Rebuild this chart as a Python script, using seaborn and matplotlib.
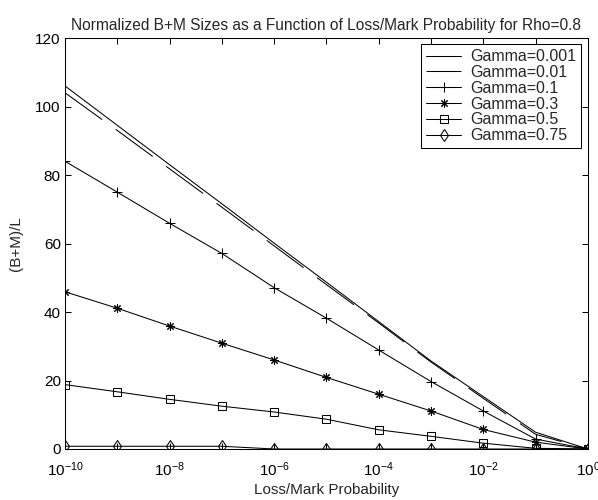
import numpy as np
import pandas as pd
import seaborn as sns
import matplotlib
matplotlib.use("Agg")
import matplotlib.pyplot as plt

# loss/mark probability, one point per decade
prob = [1e-10, 1e-9, 1e-8, 1e-7, 1e-6, 1e-5, 1e-4, 1e-3, 1e-2, 1e-1, 1e0]

g0001 = [106, 94.5, 83, 71.6, 60.1, 48.7, 37.2, 25.7, 15.3, 4.9, 0]
g001 = [104, 93, 81.8, 70.6, 59.3, 48, 36.8, 25.4, 14.8, 4.3, 0]
g01 = [84, 75, 65.9, 57.1, 47.1, 38.2, 28.9, 19.7, 11.1, 2.9, 0]
g03 = [45.9, 41.1, 35.9, 30.9, 26, 20.9, 16, 11.1, 5.7, 2, 0]
g05 = [18.8, 16.7, 14.5, 12.5, 10.8, 8.7, 5.6, 3.7, 1.7, 0.2, 0]
g075 = [0.8, 0.8, 0.8, 0.8, 0, 0, 0, 0, 0, 0, 0]

labels = ["Gamma=0.001", "Gamma=0.01", "Gamma=0.1", "Gamma=0.3", "Gamma=0.5", "Gamma=0.75"]
series = [g0001, g001, g01, g03, g05, g075]

sns.set_style("ticks")
plt.rcParams['font.family'] = ['Liberation Sans', 'DejaVu Sans']
plt.rcParams['mathtext.fontset'] = 'custom'
plt.rcParams['mathtext.rm'] = 'Liberation Sans'
plt.rcParams['mathtext.it'] = 'Liberation Sans'

fig = plt.figure(figsize=(5.98, 5.0), dpi=100)
ax = fig.add_axes([0.1087, 0.102, 0.8743, 0.822])

styles = [
    dict(marker=None, linestyle='-'),
    dict(marker=None, linestyle=(0, (44, 16))),
    dict(marker='+', markersize=7, linestyle='-'),
    dict(marker=(8, 2, 0), markersize=6, linestyle='-'),
    dict(marker='s', markersize=6, linestyle='-', markerfacecolor='none'),
    dict(marker='d', markersize=6.5, linestyle='-', markerfacecolor='none'),
]

for lab, vals, st in zip(labels, series, styles):
    df = pd.DataFrame({"p": prob, "v": vals})
    sns.lineplot(data=df, x="p", y="v", ax=ax, color='black', linewidth=0.75,
                 markeredgecolor='black', markeredgewidth=0.75, label=lab, **st)

ax.set_xscale('log')
ax.set_xlim(1e-10, 1e0)
ax.set_ylim(0, 120)
ax.set_xticks(prob)
ax.set_xticklabels([r'$10^{%d}$' % e if e % 2 == 0 else '' for e in range(-10, 1)])
ax.minorticks_off()
ax.set_yticks(range(0, 121, 20))
ax.tick_params(direction='in', top=True, right=True, labelsize=11, length=4, width=0.75, colors='black')
ax.tick_params(axis='x', pad=8)
ax.tick_params(axis='y', pad=3)
for s in ax.spines.values():
    s.set_linewidth(0.75)
    s.set_color('black')

ax.set_xlabel("Loss/Mark Probability", fontsize=11, labelpad=3)
ax.set_ylabel("(B+M)/L", fontsize=11, labelpad=9)
ax.set_title("Normalized B+M Sizes as a Function of Loss/Mark Probability for Rho=0.8", fontsize=11.2, pad=6)

leg = ax.legend(loc='upper right', fontsize=11.5, frameon=True, fancybox=False, handlelength=2.2,
                handletextpad=0.6, borderaxespad=0.4, labelspacing=0.05, borderpad=0.3,
                edgecolor='black', framealpha=1)
leg.get_frame().set_linewidth(0.75)

fig.savefig("out.png", dpi=100)
